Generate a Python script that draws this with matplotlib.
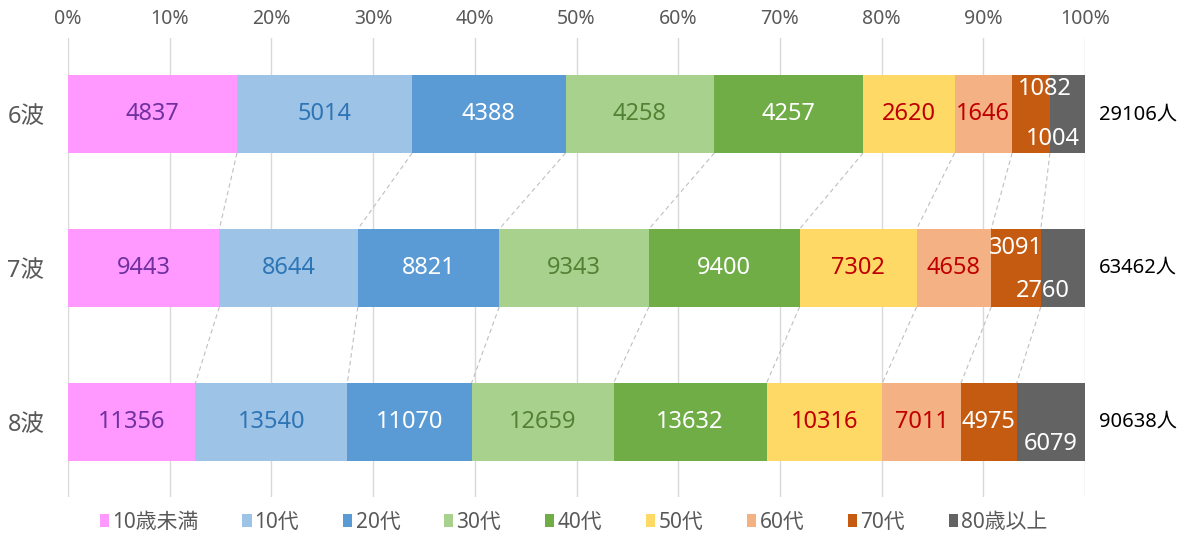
import matplotlib
matplotlib.use("Agg")
import matplotlib.pyplot as plt
import numpy as np
from matplotlib.patches import Patch

plt.rcParams['font.family'] = ['Noto Sans', 'Noto Sans CJK JP', 'DejaVu Sans']

waves = ["6波", "7波", "8波"]
age_groups = ["10歳未満", "10代", "20代", "30代", "40代", "50代", "60代", "70代", "80歳以上"]
wave6 = [4837, 5014, 4388, 4258, 4257, 2620, 1646, 1082, 1004]
wave7 = [9443, 8644, 8821, 9343, 9400, 7302, 4658, 3091, 2760]
wave8 = [11356, 13540, 11070, 12659, 13632, 10316, 7011, 4975, 6079]
totals = [29106, 63462, 90638]
tick_labels = ["0%", "10%", "20%", "30%", "40%", "50%", "60%", "70%", "80%", "90%", "100%"]

colors = ["#FF99FF", "#9DC3E6", "#5B9BD5", "#A9D18E", "#70AD47",
          "#FFD966", "#F4B183", "#C55A11", "#636363"]
text_colors = ["#7030A0", "#2E75B6", "white", "#548235", "white",
               "#C00000", "#C00000", "white", "white"]

data = np.array([wave6, wave7, wave8], dtype=float)
pct = data / data.sum(axis=1, keepdims=True) * 100
cum = np.cumsum(pct, axis=1)
left = cum - pct

fig = plt.figure(figsize=(12, 5.41), dpi=100)
ax = fig.add_axes([68/1200, 1-497/541, (1085-68)/1200, (497-38)/541])

bar_h = 0.506
ypos = np.arange(len(waves))
for j in range(len(age_groups)):
    ax.barh(ypos, pct[:, j], left=left[:, j], height=bar_h, color=colors[j],
            label=age_groups[j], zorder=2, linewidth=0)

# label adjustments (dx in %, dy in category units) for crowded segments
adj = {(0, 7): (1.4, -0.16), (0, 8): (-1.4, 0.16),
       (1, 7): (0.0, -0.13), (1, 8): (-2.0, 0.15),
       (2, 8): (0.0, 0.14)}
for i in range(len(waves)):
    for j in range(len(age_groups)):
        dx, dy = adj.get((i, j), (0, 0))
        ax.text(left[i, j] + pct[i, j] / 2 + dx, ypos[i] + dy, f"{int(data[i, j])}",
                ha="center", va="center", color=text_colors[j], fontsize=17, zorder=4)
    ax.text(101.4, ypos[i], f"{totals[i]}人", ha="left", va="center",
            color="black", fontsize=14.5, clip_on=False)

# connector lines
for i in range(len(waves) - 1):
    for j in range(len(age_groups) - 1):
        ax.plot([cum[i, j], cum[i + 1, j]], [ypos[i] + bar_h / 2, ypos[i + 1] - bar_h / 2],
                color="#BFBFBF", lw=0.8, ls=(0, (4, 3)), zorder=1)

ax.set_xlim(0, 100)
ax.set_ylim(2.487, -0.494)
ax.set_xticks(np.arange(0, 101, 10))
ax.set_xticklabels(tick_labels, color="#595959", fontsize=14)
ax.xaxis.tick_top()
ax.tick_params(axis="x", length=0, pad=6.5)
ax.set_yticks(ypos)
ax.set_yticklabels(waves, color="#595959", fontsize=17)
ax.tick_params(axis="y", length=0, pad=17)
ax.grid(axis="x", color="#D9D9D9", lw=1, zorder=0)
ax.set_axisbelow(True)
for s in ax.spines.values():
    s.set_visible(False)

handles = [Patch(facecolor=c, edgecolor="none") for c in colors]
fig.legend(handles, age_groups, loc="center", bbox_to_anchor=(0.478, 1-522/541),
           ncol=9, frameon=False, fontsize=15, handlelength=0.45, handleheight=0.6,
           handletextpad=0.15, columnspacing=2.1, labelcolor="#595959")

fig.savefig("out.png", dpi=100)
